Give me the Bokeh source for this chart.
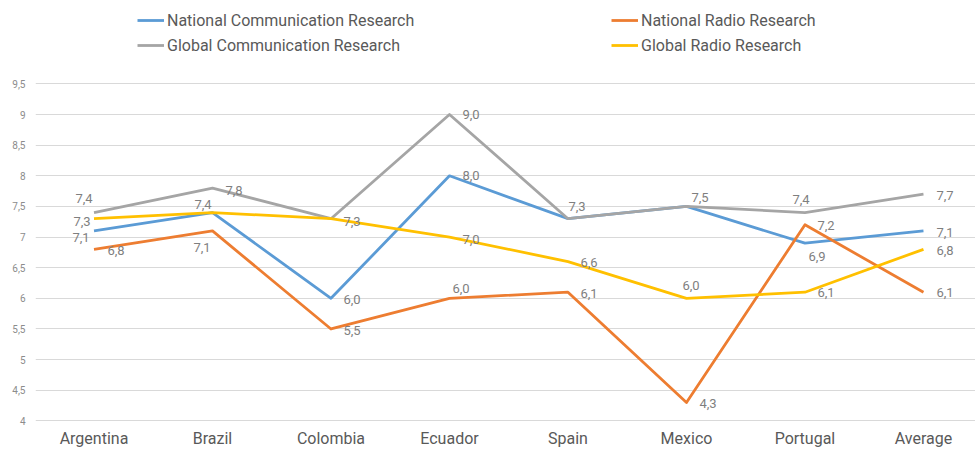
from bokeh.plotting import figure
from bokeh.models import (ColumnDataSource, FixedTicker, CustomJSTickFormatter,
                          Legend, LegendItem, Range1d)
from bokeh.core.properties import value
from bokeh.embed import file_html
from bokeh.resources import INLINE

# ---- data ----
categories = ["Argentina", "Brazil", "Colombia", "Ecuador", "Spain", "Mexico", "Portugal", "Average"]
national_comm = [7.1, 7.4, 6.0, 8.0, 7.3, 7.5, 6.9, 7.1]
national_radio = [6.8, 7.1, 5.5, 6.0, 6.1, 4.3, 7.2, 6.1]
global_comm = [7.4, 7.8, 7.3, 9.0, 7.3, 7.5, 7.4, 7.7]
global_radio = [7.3, 7.4, 7.3, 7.0, 6.6, 6.0, 6.1, 6.8]
y_ticks = [4, 4.5, 5, 5.5, 6, 6.5, 7, 7.5, 8, 8.5, 9, 9.5]

# ---- label placement (pixel offsets from the point; None = no label) ----
nc_off = [(-21.5, 7), (-18, -7.6), (12.5, 1), (13, 0), None, None, (3.5, 13.6), (13, 2)]
nr_off = [(13.5, 1.6), (-19, 17), (12.5, 1.6), (3, -10), (12.5, 1.3), (13, 1.4), (12.5, 1), (13, 0)]
gc_off = [(-18.5, -13.6), (13, 2), (12.5, 2.4), (13, 0), (0.5, -12), (5, -8.5), (-12.5, -12.6), (13, 1.6)]
gr_off = [(-20.5, 3.3), None, None, (13, 2), (12.5, 1.4), (-4, -12.8), (12.5, 0.3), (13, 1.6)]

FONT = "Roboto"
LABEL_COLOR = "#7f7f7f"

p = figure(width=975, height=451, output_backend="svg", toolbar_location=None,
           x_range=Range1d(-0.4937, 7.439), y_range=Range1d(3.99, 10.861),
           min_border_left=35, min_border_right=0, min_border_top=0, min_border_bottom=30)
p.outline_line_color = None
p.background_fill_color = "white"
p.border_fill_color = "white"

# axes
p.xaxis.ticker = FixedTicker(ticks=list(range(len(categories))))
p.xaxis.major_label_overrides = {i: c for i, c in enumerate(categories)}
p.xaxis.axis_line_color = None
p.xaxis.major_tick_line_color = None
p.xaxis.minor_tick_line_color = None
p.xaxis.major_tick_out = 0
p.xaxis.major_label_standoff = 7
p.xaxis.major_label_text_font = FONT
p.xaxis.major_label_text_font_size = "16px"
p.xaxis.major_label_text_color = "#595959"
p.xgrid.grid_line_color = None

p.yaxis.ticker = FixedTicker(ticks=y_ticks)
p.yaxis.formatter = CustomJSTickFormatter(code="return tick.toString().replace('.', ',');")
p.yaxis.axis_line_color = None
p.yaxis.major_tick_line_color = None
p.yaxis.minor_tick_line_color = None
p.yaxis.major_tick_out = 0
p.yaxis.major_label_standoff = 10
p.yaxis.major_label_text_font = FONT
p.yaxis.major_label_text_font_size = "10px"
p.yaxis.major_label_text_color = "#8c8c8c"
p.ygrid.ticker = FixedTicker(ticks=y_ticks)
p.ygrid.grid_line_color = "#d9d9d9"
p.ygrid.grid_line_width = 1

xs = list(range(len(categories)))
series = [
    ("National Communication Research", national_comm, "#5B9BD5", nc_off),
    ("National Radio Research", national_radio, "#ED7D31", nr_off),
    ("Global Communication Research", global_comm, "#A5A5A5", gc_off),
    ("Global Radio Research", global_radio, "#FFC000", gr_off),
]

renderers = {}
for name, vals, color, offs in series:
    r = p.line(xs, vals, line_color=color, line_width=2.8, line_join="round")
    renderers[name] = r

for name, vals, color, offs in series:
    lx, ly, lt, dx, dy = [], [], [], [], []
    for i, (v, o) in enumerate(zip(vals, offs)):
        if o is None:
            continue
        lx.append(i)
        ly.append(v)
        lt.append(f"{v:.1f}".replace(".", ","))
        dx.append(o[0])
        dy.append(o[1])
    src = ColumnDataSource(dict(x=lx, y=ly, t=lt, dx=dx, dy=dy))
    p.text(x="x", y="y", text="t", x_offset="dx", y_offset="dy", source=src,
           text_font=value(FONT), text_font_size="13px", text_color=LABEL_COLOR,
           text_align="left", text_baseline="middle")

def make_legend(names, loc):
    lg = Legend(items=[LegendItem(label=n, renderers=[renderers[n]]) for n in names],
                location=loc, orientation="vertical")
    lg.padding = 0
    lg.margin = 0
    lg.spacing = 5
    lg.glyph_width = 27
    lg.glyph_height = 20
    lg.label_height = 20
    lg.label_standoff = 3
    lg.label_text_font = FONT
    lg.label_text_font_size = "16px"
    lg.label_text_color = "#595959"
    lg.background_fill_alpha = 0
    lg.border_line_color = None
    return lg

p.add_layout(make_legend(["National Communication Research", "Global Communication Research"], (102, 366)), "center")
p.add_layout(make_legend(["National Radio Research", "Global Radio Research"], (576, 366)), "center")

open("out.html", "w").write(file_html(p, INLINE))
